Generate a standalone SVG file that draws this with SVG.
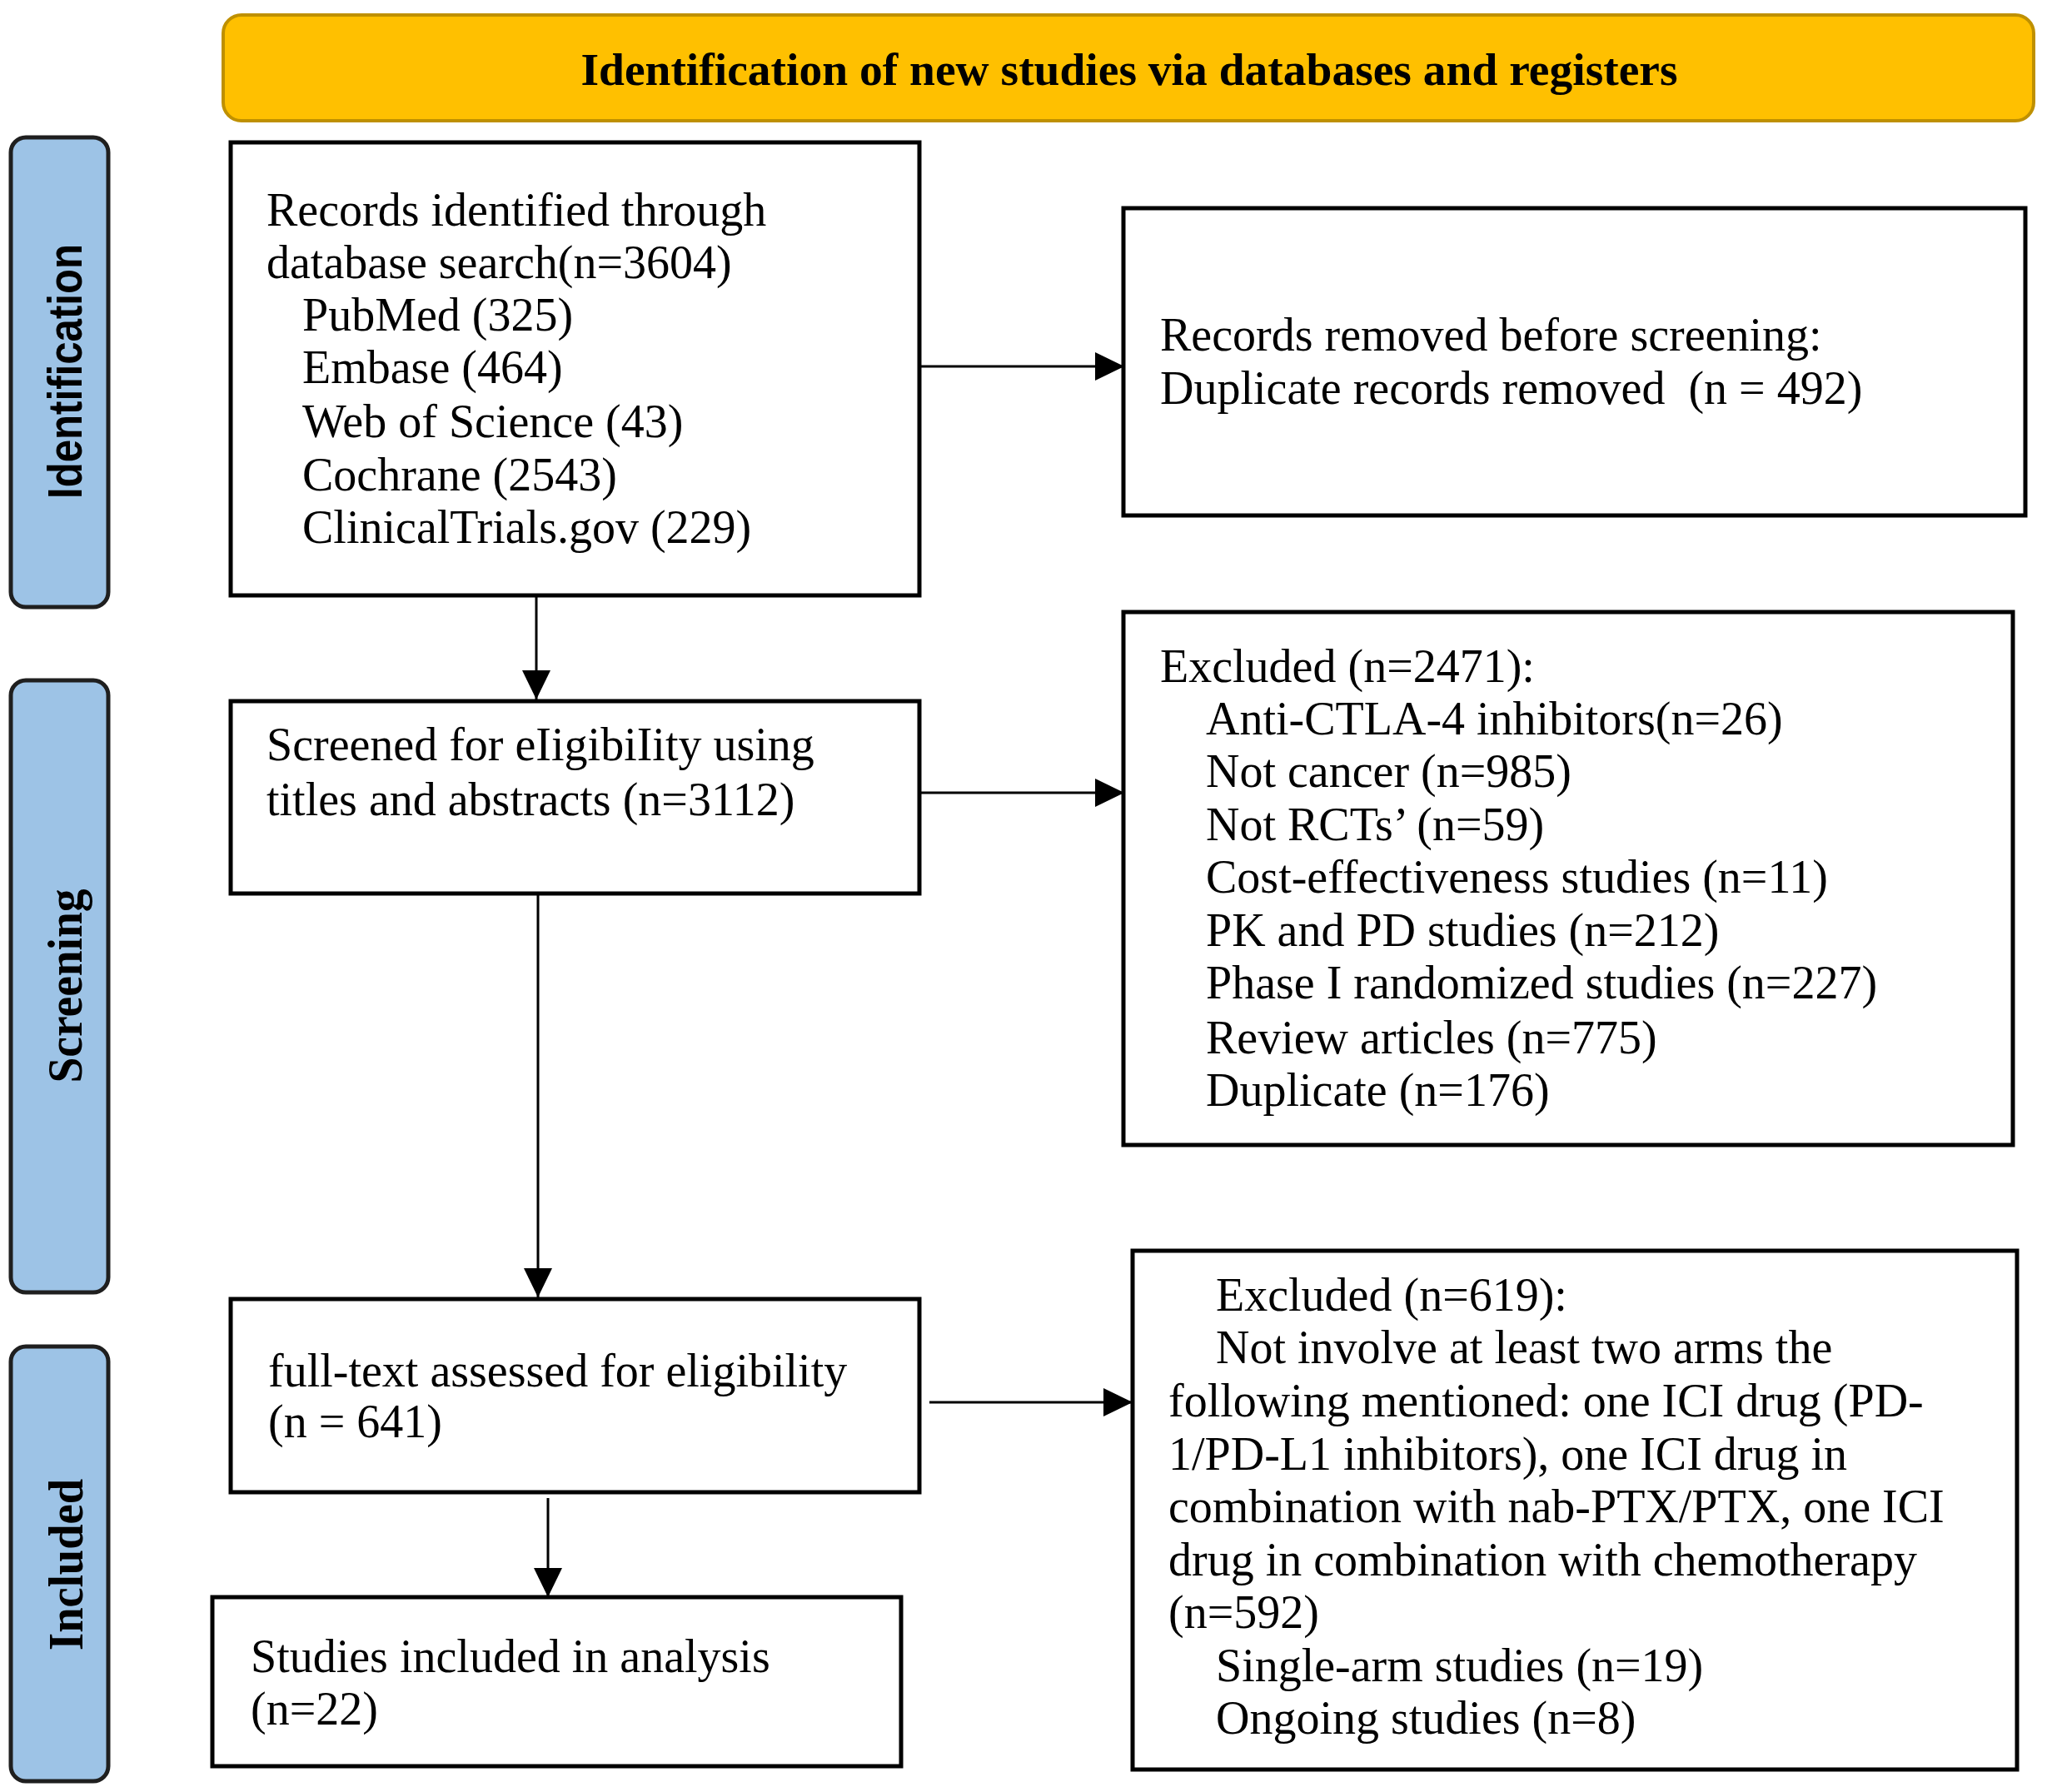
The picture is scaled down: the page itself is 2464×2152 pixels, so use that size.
<svg xmlns="http://www.w3.org/2000/svg" width="2464" height="2152" viewBox="0 0 2464 2152">
<style>
.box{fill:#fff;stroke:#000;stroke-width:5}
.tab{fill:#9DC3E6;stroke:#1f1f1f;stroke-width:5}
.t{font-family:"Liberation Serif","Times New Roman",serif;font-size:56px;fill:#000}
.hd{font-family:"Liberation Serif","Times New Roman",serif;font-size:55.5px;font-weight:bold;fill:#000}
.tl{font-family:"Liberation Serif","Times New Roman",serif;font-size:60px;font-weight:bold;fill:#000}
.ts{font-family:"Liberation Sans",Arial,sans-serif;font-size:58px;font-weight:bold;fill:#000}
.c{stroke:#000;stroke-width:3;fill:none;marker-end:url(#ah)}
</style>
<defs>
<marker id="ah" markerUnits="userSpaceOnUse" markerWidth="36" markerHeight="36" viewBox="0 0 36 36" refX="35" refY="18" orient="auto">
<path d="M0,1 L35,18 L0,35 z" fill="#000"/>
</marker>
</defs>
<rect width="2464" height="2152" fill="#fff"/>
<g id="header">
<rect x="268" y="18" width="2174" height="127" rx="22" fill="#FFC000" stroke="#BF9000" stroke-width="4"/>
<text class="hd" x="1356" y="102" text-anchor="middle">Identification of new studies via databases and registers</text>
</g>
<g id="tab-identification">
<rect class="tab" x="13" y="165" width="117" height="564" rx="18"/>
<text class="ts" transform="translate(98,446) rotate(-90)" text-anchor="middle" textLength="306" lengthAdjust="spacingAndGlyphs">Identification</text>
</g>
<g id="tab-screening">
<rect class="tab" x="13" y="817" width="117" height="735" rx="18"/>
<text class="tl" transform="translate(98,1184) rotate(-90)" text-anchor="middle" textLength="233" lengthAdjust="spacingAndGlyphs">Screening</text>
</g>
<g id="tab-included">
<rect class="tab" x="13" y="1617" width="117" height="522" rx="18"/>
<text class="tl" transform="translate(99,1879) rotate(-90)" text-anchor="middle" textLength="206" lengthAdjust="spacingAndGlyphs">Included</text>
</g>
<g id="connectors">
<path class="c" d="M1104,440 H1350"/>
<path class="c" d="M644,715 V840"/>
<path class="c" d="M1104,952 H1350"/>
<path class="c" d="M646,1073 V1558"/>
<path class="c" d="M1116,1684 H1360"/>
<path class="c" d="M658,1799 V1918"/>
</g>
<g id="records-identified">
<rect class="box" x="277" y="171" width="827" height="544"/>
<text class="t" x="320" y="271">Records identified through</text>
<text class="t" x="320" y="334">database search(n=3604)</text>
<text class="t" x="363" y="397">PubMed (325)</text>
<text class="t" x="363" y="460">Embase (464)</text>
<text class="t" x="363" y="525">Web of Science (43)</text>
<text class="t" x="363" y="589">Cochrane (2543)</text>
<text class="t" x="363" y="652">ClinicalTrials.gov (229)</text>
</g>
<g id="records-removed">
<rect class="box" x="1349" y="250" width="1083" height="369"/>
<text class="t" x="1393" y="421">Records removed before screening:</text>
<text class="t" x="1393" y="485" xml:space="preserve">Duplicate records removed  (n = 492)</text>
</g>
<g id="screened">
<rect class="box" x="277" y="842" width="827" height="231"/>
<text class="t" x="320" y="913">Screened for eIigibiIity using</text>
<text class="t" x="320" y="979">titles and abstracts (n=3112)</text>
</g>
<g id="excluded-screening">
<rect class="box" x="1349" y="735" width="1068" height="640"/>
<text class="t" x="1393" y="819">Excluded (n=2471):</text>
<text class="t" x="1448" y="882">Anti-CTLA-4 inhibitors(n=26)</text>
<text class="t" x="1448" y="945">Not cancer (n=985)</text>
<text class="t" x="1448" y="1009">Not RCTs’ (n=59)</text>
<text class="t" x="1448" y="1072">Cost-effectiveness studies (n=11)</text>
<text class="t" x="1448" y="1136">PK and PD studies (n=212)</text>
<text class="t" x="1448" y="1199">Phase I randomized studies (n=227)</text>
<text class="t" x="1448" y="1265">Review articles (n=775)</text>
<text class="t" x="1448" y="1328">Duplicate (n=176)</text>
</g>
<g id="full-text">
<rect class="box" x="277" y="1560" width="827" height="232"/>
<text class="t" x="322" y="1665">full-text assessed for eligibility</text>
<text class="t" x="322" y="1726">(n = 641)</text>
</g>
<g id="excluded-fulltext">
<rect class="box" x="1360" y="1502" width="1062" height="623"/>
<text class="t" x="1460" y="1574">Excluded (n=619):</text>
<text class="t" x="1460" y="1637">Not involve at least two arms the</text>
<text class="t" x="1403" y="1701">following mentioned: one ICI drug (PD-</text>
<text class="t" x="1403" y="1765">1/PD-L1 inhibitors), one ICI drug in</text>
<text class="t" x="1403" y="1828">combination with nab-PTX/PTX, one ICI</text>
<text class="t" x="1403" y="1892">drug in combination with chemotherapy</text>
<text class="t" x="1403" y="1955">(n=592)</text>
<text class="t" x="1460" y="2019">Single-arm studies (n=19)</text>
<text class="t" x="1460" y="2082">Ongoing studies (n=8)</text>
</g>
<g id="included">
<rect class="box" x="255" y="1918" width="827" height="203"/>
<text class="t" x="301" y="2008">Studies included in analysis</text>
<text class="t" x="301" y="2071">(n=22)</text>
</g>
</svg>
